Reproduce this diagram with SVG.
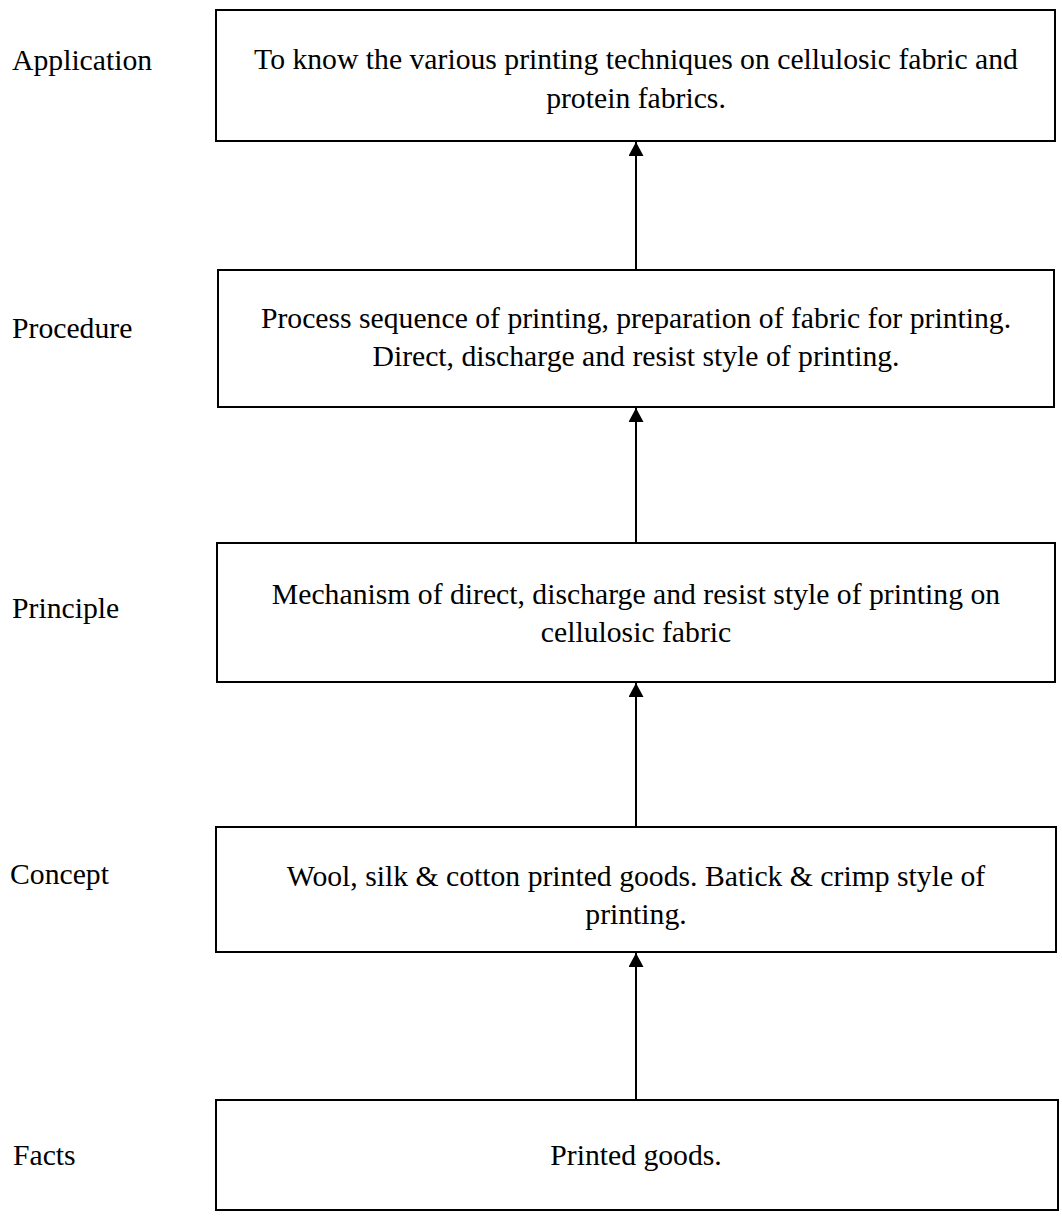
<svg xmlns="http://www.w3.org/2000/svg" width="1062" height="1216" viewBox="0 0 1062 1216">
  <style>
    .box { fill: #ffffff; stroke: #000000; stroke-width: 2; }
    .txt { font-family: "Liberation Serif", "Times New Roman", serif; font-size: 29.7px; fill: #000000; }
    .mid { text-anchor: middle; }
    .conn { stroke: #000000; stroke-width: 2; fill: none; }
  </style>
  <defs>
    <marker id="head" viewBox="0 0 14 15" refX="14" refY="7.5" markerWidth="14" markerHeight="15" markerUnits="userSpaceOnUse" orient="auto">
      <path d="M0,0 L14,7.5 L0,15 Z" fill="#000000"/>
    </marker>
  </defs>
  <rect width="1062" height="1216" fill="#ffffff"/>

  <!-- level labels -->
  <g id="labels">
    <text class="txt" x="12" y="70">Application</text>
    <text class="txt" x="12" y="338">Procedure</text>
    <text class="txt" x="12" y="618">Principle</text>
    <text class="txt" x="10" y="884">Concept</text>
    <text class="txt" x="13" y="1165">Facts</text>
  </g>

  <g id="application">
    <rect class="box" x="216" y="10" width="839" height="131"/>
    <text class="txt mid" x="636" y="69">To know the various printing techniques on cellulosic fabric and</text>
    <text class="txt mid" x="636" y="108">protein fabrics.</text>
  </g>

  <g id="procedure">
    <rect class="box" x="218" y="270" width="836" height="137"/>
    <text class="txt mid" x="636" y="328">Process sequence of printing, preparation of fabric for printing.</text>
    <text class="txt mid" x="636" y="366">Direct, discharge and resist style of printing.</text>
  </g>

  <g id="principle">
    <rect class="box" x="217" y="543" width="838" height="139"/>
    <text class="txt mid" x="636" y="604">Mechanism of direct, discharge and resist style of printing on</text>
    <text class="txt mid" x="636" y="642">cellulosic fabric</text>
  </g>

  <g id="concept">
    <rect class="box" x="216" y="827" width="840" height="125"/>
    <text class="txt mid" x="636" y="886">Wool, silk &amp; cotton printed goods. Batick &amp; crimp style of</text>
    <text class="txt mid" x="636" y="924">printing.</text>
  </g>

  <g id="facts">
    <rect class="box" x="216" y="1100" width="842" height="110"/>
    <text class="txt mid" x="636" y="1165">Printed goods.</text>
  </g>

  <g id="connectors">
    <line class="conn" x1="636" y1="270" x2="636" y2="142" marker-end="url(#head)"/>
    <line class="conn" x1="636" y1="543" x2="636" y2="408" marker-end="url(#head)"/>
    <line class="conn" x1="636" y1="827" x2="636" y2="683" marker-end="url(#head)"/>
    <line class="conn" x1="636" y1="1100" x2="636" y2="953" marker-end="url(#head)"/>
  </g>
</svg>
